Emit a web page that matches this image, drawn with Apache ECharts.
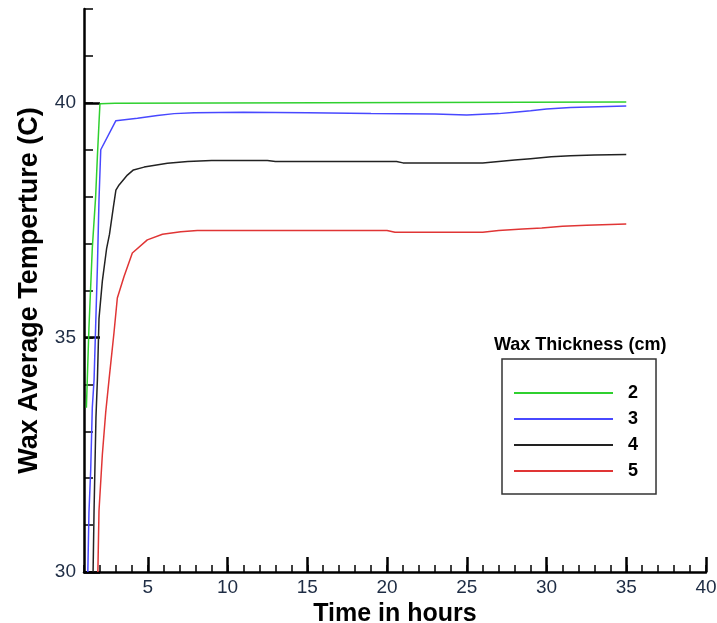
<!DOCTYPE html>
<html>
<head>
<meta charset="utf-8">
<script src="https://cdn.jsdelivr.net/npm/echarts@6/dist/echarts.min.js"></script>
<style>
html,body{margin:0;padding:0;background:#fff;}
#chart{width:717px;height:623px;}
</style>
</head>
<body>
<div id="chart"></div>
<script>
// ---- data ----
const seriesNames = ['2', '3', '4', '5'];
const green2 = [[1.15,33.5],[1.31,35.2],[1.52,36.9],[1.73,38.0],[1.84,38.86],[1.94,39.57],[2.0,39.98],[2.95,39.99],[3.05,40.02],[35,40.02]];
const blue3 = [[1.24,30.0],[1.31,31.26],[1.42,32.17],[1.52,33.5],[1.63,34.09],[1.73,35.23],[1.84,36.5],[1.94,37.93],[2.05,39.0],[3.0,39.62],[4.35,39.67],[5.6,39.73],[6.65,39.77],[7.9,39.79],[11,39.8],[15,39.79],[19,39.77],[23,39.76],[25,39.74],[27,39.77],[28,39.8],[29,39.83],[30,39.87],[31.5,39.9],[35,39.93]];
const black4 = [[1.57,30.0],[1.63,31.3],[1.75,33.3],[1.84,34.1],[1.94,35.4],[2.15,36.2],[2.42,36.9],[2.6,37.2],[2.85,37.8],[3.0,38.14],[3.2,38.25],[3.72,38.46],[4.1,38.57],[4.77,38.63],[6.23,38.71],[7.5,38.75],[9,38.77],[12.5,38.77],[13,38.75],[20.6,38.75],[21,38.72],[26,38.72],[27,38.75],[28,38.78],[29,38.81],[30.3,38.85],[31.5,38.87],[33,38.89],[35,38.9]];
const red5 = [[1.87,30.0],[1.94,31.3],[2.15,32.5],[2.36,33.4],[2.57,34.1],[2.88,35.1],[3.09,35.84],[3.51,36.3],[4.03,36.8],[4.97,37.08],[5.92,37.2],[7.07,37.25],[8.1,37.28],[20,37.28],[20.5,37.24],[26,37.24],[27,37.28],[28.5,37.31],[29.7,37.33],[31,37.37],[32.5,37.39],[35,37.42]];
const xMajorTicks = [5, 10, 15, 20, 25, 30, 35, 40];
const xMinorTicks = [1,2,3,4,5,6,7,8,9,10,11,12,13,14,15,16,17,18,19,20,21,22,23,24,25,26,27,28,29,30,31,32,33,34,35,36,37,38,39,40];
const yMajorTicks = [30, 35, 40];
const yMinorTicks = [30,31,32,33,34,35,36,37,38,39,40,41,42];
const colors = ['#2fd02f', '#4848ff', '#222222', '#e03535'];
const allData = [green2, blue3, black4, red5];

const font = '"Liberation Sans", Arial, sans-serif';
const labelColor = '#1e2c44';
const chart = echarts.init(document.getElementById('chart'));

const xBase = {type: 'value', min: 1, max: 40, splitLine: {show: false}};
const yBase = {type: 'value', min: 30, max: 42, splitLine: {show: false}};

chart.setOption({
  animation: false,
  backgroundColor: '#fff',
  grid: {left: 84, top: 9, right: 11, bottom: 51, containLabel: false, outerBoundsMode: 'none'},
  title: {
    text: 'Wax Thickness (cm)', left: 489, top: 331,
    textStyle: {fontFamily: font, fontSize: 18, fontWeight: 'bold', color: '#000'}
  },
  legend: {
    data: seriesNames, orient: 'vertical', left: 502, top: 359,
    padding: [21, 18, 10, 12], itemGap: 0, itemWidth: 99, itemHeight: 2, icon: 'rect',
    borderColor: '#333', borderWidth: 1.5, backgroundColor: '#fff', selectedMode: false,
    textStyle: {fontFamily: font, fontSize: 18, fontWeight: 'bold', color: '#000', lineHeight: 26, padding: [0, 0, 0, 10]}
  },
  xAxis: [
    Object.assign({}, xBase, {
      name: 'Time in hours', nameLocation: 'middle', nameGap: 22,
      nameTextStyle: {fontFamily: font, fontSize: 25, fontWeight: 'bold', color: '#000'},
      axisLine: {show: true, lineStyle: {color: '#000', width: 2.5}},
      axisTick: {show: true, inside: true, length: 15, customValues: xMajorTicks, lineStyle: {color: '#000', width: 2.5}},
      axisLabel: {customValues: xMajorTicks, margin: 6, fontFamily: font, fontSize: 19, color: labelColor}
    }),
    Object.assign({}, xBase, {
      position: 'bottom',
      axisLine: {show: false},
      axisTick: {show: true, inside: true, length: 7, customValues: xMinorTicks, lineStyle: {color: '#000', width: 1.5}},
      axisLabel: {show: false}
    })
  ],
  yAxis: [
    Object.assign({}, yBase, {
      name: 'Wax Average Temperture (C)', nameLocation: 'middle', nameGap: 41,
      nameTextStyle: {fontFamily: font, fontSize: 27, fontWeight: 'bold', color: '#000'},
      axisLine: {show: true, lineStyle: {color: '#000', width: 2.5}},
      axisTick: {show: true, inside: true, length: 16, customValues: yMajorTicks, lineStyle: {color: '#000', width: 2.5}},
      axisLabel: {customValues: yMajorTicks, margin: 8, fontFamily: font, fontSize: 19, color: labelColor}
    }),
    Object.assign({}, yBase, {
      position: 'left',
      axisLine: {show: false},
      axisTick: {show: true, inside: true, length: 9, customValues: yMinorTicks, lineStyle: {color: '#000', width: 1.5}},
      axisLabel: {show: false}
    })
  ],
  series: allData.map((d, i) => ({
    name: seriesNames[i], type: 'line', data: d, showSymbol: false, symbol: 'none',
    xAxisIndex: 0, yAxisIndex: 0, clip: true,
    itemStyle: {color: colors[i]},
    lineStyle: {color: colors[i], width: 1.5}
  }))
});
</script>
</body>
</html>
